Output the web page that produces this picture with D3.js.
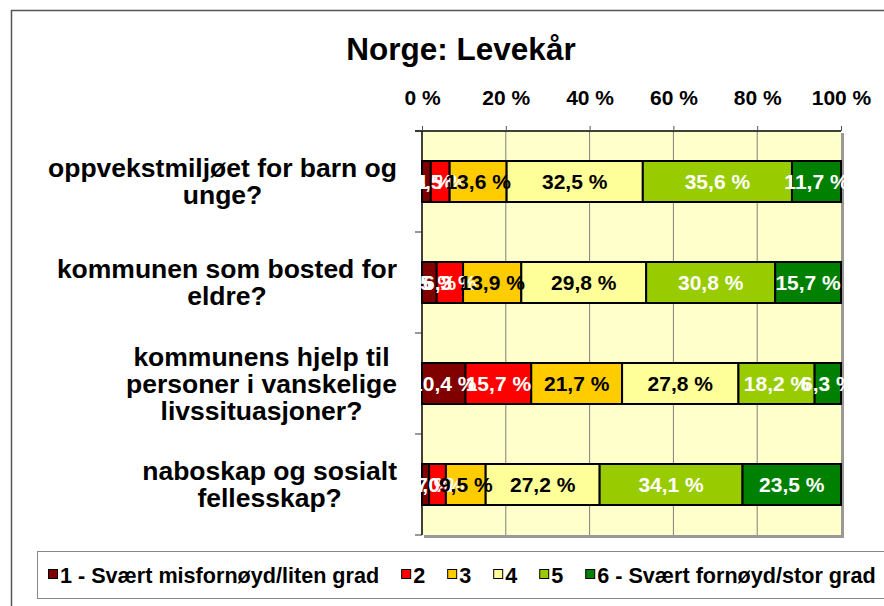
<!DOCTYPE html>
<html><head><meta charset="utf-8">
<script src="https://cdn.jsdelivr.net/npm/d3@7"></script>
<style>
body{margin:0;background:#fff;}
svg text{font-family:"Liberation Sans",Arial,sans-serif;font-weight:bold;}
</style>
</head><body>
<svg id="c" width="884" height="606"></svg>
<script>
// ---- data ----
const categories = [
  "oppvekstmiljøet for barn og unge?",
  "kommunen som bosted for eldre?",
  "kommunens hjelp til personer i vanskelige livssituasjoner?",
  "naboskap og sosialt fellesskap?"
];
const categoryLines = [
  ["oppvekstmiljøet for barn og", "unge?"],
  ["kommunen som bosted for", "eldre?"],
  ["kommunens hjelp til", "personer i vanskelige", "livssituasjoner?"],
  ["naboskap og sosialt", "fellesskap?"]
];
const seriesNames = ["1 - Svært misfornøyd/liten grad", "2", "3", "4", "5", "6 - Svært fornøyd/stor grad"];
const s1 = [2.1, 3.5, 10.4, 1.7];
const s2 = [4.5, 6.3, 15.7, 4.0];
const s3 = [13.6, 13.9, 21.7, 9.5];
const s4 = [32.5, 29.8, 27.8, 27.2];
const s5 = [35.6, 30.8, 18.2, 34.1];
const s6 = [11.7, 15.7, 6.3, 23.5];
const tickValues = [0, 20, 40, 60, 80, 100];
const tickLabels = ["0 %", "20 %", "40 %", "60 %", "80 %", "100 %"];
const title = "Norge: Levekår";

const seriesValues = [s1, s2, s3, s4, s5, s6];
const colors = ["#800000", "#FF0000", "#FFCC00", "#FFFF99", "#99CC00", "#008000"];
const labelColors = ["#fff", "#fff", "#000", "#000", "#fff", "#fff"];

const svg = d3.select("#c");
const plot = {left: 422, right: 841, top: 131, bottom: 535};

// outer frame
svg.append("rect").attr("x", 11.5).attr("y", 10.5).attr("width", 900).attr("height", 700)
  .attr("fill", "none").attr("stroke", "#555").attr("stroke-width", 1.5);

// title
svg.append("text").attr("x", 461).attr("y", 60).attr("text-anchor", "middle")
  .attr("font-size", 31.5).attr("fill", "#000").text(title);

const x = d3.scaleLinear().domain([0, 100]).range([plot.left, plot.right]);
const y = d3.scaleBand().domain(categories).range([plot.top, plot.bottom])
  .paddingInner(0.594).paddingOuter(0.297);

// plot background + shadow
svg.append("rect").attr("x", plot.left + 2).attr("y", plot.top + 2)
  .attr("width", plot.right - plot.left + 1).attr("height", plot.bottom - plot.top + 1)
  .attr("fill", "#999");
svg.append("rect").attr("x", plot.left).attr("y", plot.top)
  .attr("width", plot.right - plot.left).attr("height", plot.bottom - plot.top)
  .attr("fill", "#FFFFCC");

// gridlines
svg.append("g").selectAll("line").data(tickValues.slice(1, -1)).join("line")
  .attr("x1", d => x(d)).attr("x2", d => x(d))
  .attr("y1", plot.top).attr("y2", plot.bottom)
  .attr("stroke", "#808080").attr("stroke-width", 1);

// top axis
const xAxis = d3.axisTop(x).tickValues(tickValues).tickSize(5).tickPadding(21)
  .tickFormat((d, i) => tickLabels[i]);
const gx = svg.append("g").attr("transform", `translate(0,${plot.top})`).call(xAxis);
gx.select(".domain").attr("stroke", "#000").attr("stroke-width", 1.5)
  .attr("d", `M${plot.left - 7},0H${plot.right}`);
gx.selectAll(".tick line").attr("stroke", "#555");
gx.selectAll(".tick text").attr("font-size", 21).attr("fill", "#000")
  .attr("font-family", "Liberation Sans, Arial, sans-serif").attr("font-weight", "bold");

// left axis line + boundary ticks
svg.append("line").attr("x1", plot.left).attr("x2", plot.left)
  .attr("y1", plot.top).attr("y2", plot.bottom).attr("stroke", "#000").attr("stroke-width", 1.5);
const boundaries = categories.map(c => y(c) - y.step() * y.paddingInner() / 2).concat([plot.bottom]);
svg.append("g").selectAll("line").data(boundaries).join("line")
  .attr("x1", plot.left - 7).attr("x2", plot.left)
  .attr("y1", d => d).attr("y2", d => d).attr("stroke", "#333").attr("stroke-width", 1);

// stacked data (100% stacked)
const rows = categories.map((c, i) => {
  const vals = seriesValues.map(s => s[i]);
  const total = d3.sum(vals);
  let acc = 0;
  return vals.map((v, k) => {
    const seg = {cat: c, k, v, x0: acc / total * 100, x1: (acc + v) / total * 100};
    acc += v;
    return seg;
  });
});
const segs = rows.flat();

svg.append("g").selectAll("rect").data(segs).join("rect")
  .attr("x", d => x(d.x0)).attr("y", d => y(d.cat))
  .attr("width", d => x(d.x1) - x(d.x0)).attr("height", y.bandwidth())
  .attr("fill", d => colors[d.k]).attr("stroke", "#000").attr("stroke-width", 2);

const fmt = v => d3.format(".1f")(v).replace(".", ",") + " %";
svg.append("g").selectAll("text").data(segs).join("text")
  .attr("x", d => (x(d.x0) + x(d.x1)) / 2)
  .attr("y", d => y(d.cat) + y.bandwidth() / 2 + 7.5)
  .attr("text-anchor", "middle").attr("font-size", 21)
  .attr("fill", d => labelColors[d.k]).text(d => fmt(d.v));

// category labels
const rightEdge = 397;
const lh = 27;
categories.forEach((c, i) => {
  const lines = categoryLines[i];
  const g = svg.append("g");
  const cy = y(c) + y.bandwidth() / 2;
  const texts = g.selectAll("text").data(lines).join("text")
    .attr("font-size", 26.5).attr("fill", "#000").attr("text-anchor", "middle")
    .attr("y", (d, j) => cy + (j - (lines.length - 1) / 2) * lh + 9)
    .text(d => d);
  let maxW = 0;
  texts.each(function() { maxW = Math.max(maxW, this.getComputedTextLength()); });
  texts.attr("x", rightEdge - maxW / 2);
});

// legend
svg.append("rect").attr("x", 37.5).attr("y", 551.5).attr("width", 900).attr("height", 47)
  .attr("fill", "#fff").attr("stroke", "#888").attr("stroke-width", 1);
const lg = svg.append("g");
let lx = 48;
const ly = 575;
seriesNames.forEach((n, k) => {
  lg.append("rect").attr("x", lx + 0.5).attr("y", ly - 5.5).attr("width", 9).attr("height", 9)
    .attr("fill", colors[k]).attr("stroke", "#000").attr("stroke-width", 1);
  const t = lg.append("text").attr("x", lx + 12).attr("y", ly + 7.5).attr("font-size", 21.6)
    .attr("fill", "#000").text(n);
  lx += 12 + t.node().getComputedTextLength() + 22;
});
</script>
</body></html>
